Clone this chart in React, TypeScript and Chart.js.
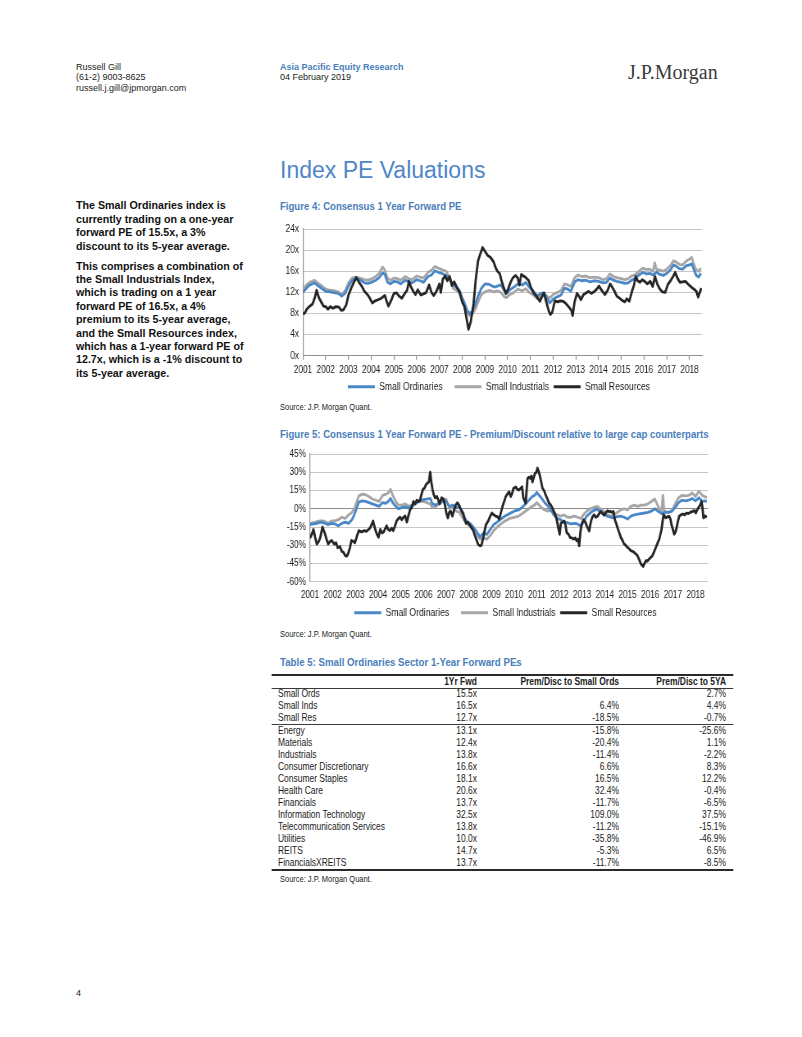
import React, { useEffect, useRef } from "react";
import { Chart, registerables } from "chart.js";

Chart.register(...registerables);

const FONT = '"Liberation Sans", Arial, Helvetica, sans-serif';
const SERIF = '"Liberation Serif", "Times New Roman", serif';

// ---------- shared axis values ----------
const YEAR_TICKS = [2001, 2002, 2003, 2004, 2005, 2006, 2007, 2008, 2009, 2010, 2011, 2012, 2013, 2014, 2015, 2016, 2017, 2018];
const X_MIN = 2001;
const X_MAX = 2018.55;
const PE_TICKS = [0, 4, 8, 12, 16, 20, 24];
const PREM_TICKS = [-60, -45, -30, -15, 0, 15, 30, 45];
const SERIES_NAMES = ["Small Ordinaries", "Small Industrials", "Small Resources"];

// ---------- Figure 4: Consensus 1 Year Forward PE (x) ----------
const peSmallOrds: [number, number][] = [
  [2001.0, 12.0], [2001.15, 12.8], [2001.3, 13.4], [2001.5, 13.8], [2001.65, 13.3], [2001.8, 12.8],
  [2002.0, 12.2], [2002.2, 12.1], [2002.4, 11.9], [2002.55, 11.8], [2002.7, 11.3], [2002.85, 11.8],
  [2003.0, 13.2], [2003.15, 14.2], [2003.3, 14.6], [2003.5, 14.4], [2003.7, 13.8], [2003.85, 13.7],
  [2004.0, 13.9], [2004.2, 14.3], [2004.35, 14.8], [2004.5, 15.7], [2004.6, 15.4], [2004.72, 13.9], [2004.85, 13.6],
  [2005.0, 14.1], [2005.15, 14.0], [2005.3, 13.6], [2005.5, 14.3], [2005.65, 14.0], [2005.8, 13.8],
  [2006.0, 14.4], [2006.15, 14.2], [2006.3, 13.9], [2006.5, 15.0], [2006.65, 15.3], [2006.8, 16.1], [2006.95, 15.8],
  [2007.1, 15.6], [2007.3, 15.2], [2007.45, 14.6], [2007.6, 13.4], [2007.75, 13.0], [2007.9, 12.2],
  [2008.0, 11.0], [2008.12, 9.8], [2008.22, 8.6], [2008.32, 8.0], [2008.45, 8.4], [2008.58, 9.8], [2008.72, 11.5], [2008.85, 12.8],
  [2009.0, 13.6], [2009.2, 13.5], [2009.4, 13.0], [2009.55, 13.2], [2009.7, 13.4], [2009.85, 12.4], [2009.95, 11.8],
  [2010.1, 12.5], [2010.25, 12.9], [2010.45, 13.6], [2010.65, 13.4], [2010.8, 13.9], [2010.95, 13.0],
  [2011.1, 12.4], [2011.3, 11.3], [2011.45, 11.8], [2011.6, 11.9], [2011.75, 10.8], [2011.85, 10.0],
  [2012.0, 10.7], [2012.2, 11.2], [2012.35, 11.5], [2012.5, 12.8], [2012.65, 12.6], [2012.78, 12.2], [2012.95, 14.0],
  [2013.1, 14.4], [2013.25, 14.2], [2013.45, 14.3], [2013.6, 14.0], [2013.8, 14.2],
  [2014.0, 14.1], [2014.2, 13.8], [2014.35, 13.9], [2014.5, 14.7], [2014.65, 14.3], [2014.8, 14.1],
  [2015.0, 13.9], [2015.15, 13.7], [2015.3, 13.8], [2015.45, 14.3], [2015.6, 14.6], [2015.75, 15.2], [2015.95, 15.8],
  [2016.1, 15.5], [2016.25, 15.6], [2016.4, 15.3], [2016.55, 15.8], [2016.7, 15.4], [2016.85, 15.2],
  [2017.0, 15.6], [2017.15, 16.2], [2017.3, 17.2], [2017.4, 17.0], [2017.55, 16.5], [2017.7, 16.4], [2017.85, 17.0],
  [2018.0, 17.2], [2018.1, 17.4], [2018.2, 16.2], [2018.3, 15.2], [2018.4, 14.9], [2018.5, 15.6],
];

const peSmallInds: [number, number][] = [
  [2001.0, 12.5], [2001.15, 13.4], [2001.3, 13.9], [2001.5, 14.3], [2001.65, 13.8], [2001.8, 13.3],
  [2002.0, 12.6], [2002.2, 12.4], [2002.4, 12.3], [2002.55, 12.1], [2002.7, 11.6], [2002.85, 12.3],
  [2003.0, 13.8], [2003.15, 14.7], [2003.3, 14.9], [2003.5, 14.7], [2003.7, 14.4], [2003.85, 14.3],
  [2004.0, 14.5], [2004.2, 15.0], [2004.35, 15.6], [2004.5, 16.8], [2004.6, 16.2], [2004.72, 14.7], [2004.85, 14.3],
  [2005.0, 14.7], [2005.15, 14.6], [2005.3, 14.3], [2005.5, 15.0], [2005.65, 14.6], [2005.8, 14.4],
  [2006.0, 15.1], [2006.15, 14.9], [2006.3, 14.7], [2006.5, 15.8], [2006.65, 16.2], [2006.8, 16.9], [2006.95, 16.6],
  [2007.1, 16.3], [2007.3, 16.0], [2007.45, 14.7], [2007.6, 12.8], [2007.75, 12.4], [2007.9, 11.8],
  [2008.0, 10.6], [2008.12, 9.4], [2008.22, 8.2], [2008.32, 7.6], [2008.45, 7.9], [2008.58, 8.8], [2008.72, 10.4], [2008.85, 11.6],
  [2009.0, 12.1], [2009.2, 12.4], [2009.4, 12.1], [2009.55, 12.3], [2009.7, 12.0], [2009.85, 11.2], [2009.95, 11.0],
  [2010.1, 11.6], [2010.25, 11.9], [2010.45, 12.6], [2010.65, 12.3], [2010.8, 12.7], [2010.95, 12.0],
  [2011.1, 11.6], [2011.3, 10.8], [2011.45, 11.3], [2011.6, 11.6], [2011.75, 11.2], [2011.85, 10.9],
  [2012.0, 11.6], [2012.2, 12.0], [2012.35, 12.4], [2012.5, 13.6], [2012.65, 13.4], [2012.78, 13.1], [2012.95, 14.8],
  [2013.1, 15.3], [2013.25, 15.0], [2013.45, 15.1], [2013.6, 14.8], [2013.8, 14.9],
  [2014.0, 14.8], [2014.2, 14.4], [2014.35, 14.6], [2014.5, 15.5], [2014.65, 15.0], [2014.8, 14.8],
  [2015.0, 14.6], [2015.15, 14.4], [2015.3, 14.6], [2015.45, 15.1], [2015.6, 15.3], [2015.75, 15.9], [2015.95, 16.6],
  [2016.1, 16.3], [2016.25, 16.4], [2016.4, 16.0], [2016.47, 17.6], [2016.55, 16.3], [2016.7, 16.2], [2016.85, 16.0],
  [2017.0, 16.4], [2017.15, 17.0], [2017.3, 18.0], [2017.4, 17.8], [2017.55, 17.3], [2017.7, 17.2], [2017.85, 17.9],
  [2018.0, 18.3], [2018.1, 18.6], [2018.2, 17.2], [2018.3, 16.2], [2018.4, 16.0], [2018.5, 16.6],
];

const peSmallRes: [number, number][] = [
  [2001.0, 7.9], [2001.08, 8.1], [2001.18, 8.9], [2001.3, 9.4], [2001.42, 9.8], [2001.52, 11.0], [2001.6, 12.4], [2001.7, 11.0], [2001.8, 10.2], [2001.9, 9.4],
  [2002.0, 9.3], [2002.1, 8.8], [2002.2, 9.3], [2002.32, 9.0], [2002.45, 9.3], [2002.58, 9.2], [2002.68, 8.6], [2002.78, 8.7], [2002.9, 9.6],
  [2003.0, 11.5], [2003.12, 12.8], [2003.25, 14.0], [2003.35, 14.8], [2003.45, 14.0], [2003.58, 13.2], [2003.7, 12.2], [2003.85, 11.5], [2003.95, 10.8],
  [2004.05, 10.0], [2004.18, 10.4], [2004.3, 10.6], [2004.45, 10.9], [2004.6, 11.4], [2004.68, 10.3], [2004.76, 9.4], [2004.88, 10.5],
  [2005.0, 11.8], [2005.12, 11.9], [2005.22, 11.3], [2005.35, 10.9], [2005.48, 11.8], [2005.58, 12.4], [2005.66, 14.1], [2005.75, 13.0], [2005.85, 12.2], [2005.95, 11.6],
  [2006.05, 12.5], [2006.18, 11.5], [2006.3, 11.7], [2006.42, 12.0], [2006.55, 13.4], [2006.65, 12.0], [2006.75, 11.4], [2006.88, 12.3],
  [2007.0, 13.6], [2007.06, 12.0], [2007.15, 14.5], [2007.25, 15.1], [2007.35, 14.2], [2007.45, 15.0], [2007.55, 13.3], [2007.65, 14.0], [2007.75, 13.1], [2007.88, 12.1],
  [2008.0, 10.2], [2008.1, 9.3], [2008.18, 7.4], [2008.28, 5.0], [2008.38, 6.5], [2008.5, 9.8], [2008.6, 14.5], [2008.7, 18.0], [2008.8, 19.3], [2008.9, 20.5],
  [2009.0, 19.8], [2009.12, 19.0], [2009.25, 18.6], [2009.38, 17.8], [2009.48, 16.6], [2009.55, 16.0], [2009.65, 15.6], [2009.72, 14.4], [2009.82, 13.0], [2009.92, 11.8],
  [2010.02, 12.6], [2010.12, 13.8], [2010.22, 14.7], [2010.34, 15.2], [2010.44, 14.8], [2010.52, 13.4], [2010.6, 15.4], [2010.7, 15.1], [2010.8, 14.8], [2010.92, 14.3],
  [2011.02, 13.0], [2011.14, 11.9], [2011.28, 11.2], [2011.42, 10.3], [2011.52, 11.3], [2011.6, 11.9], [2011.7, 10.2], [2011.8, 8.6], [2011.88, 7.8], [2011.96, 8.2],
  [2012.08, 10.4], [2012.2, 10.2], [2012.32, 10.4], [2012.45, 10.3], [2012.58, 9.8], [2012.7, 9.2], [2012.8, 8.6], [2012.86, 7.6], [2012.94, 10.1],
  [2013.05, 11.8], [2013.15, 11.2], [2013.22, 10.6], [2013.34, 11.6], [2013.45, 11.9], [2013.56, 12.2], [2013.68, 11.8], [2013.8, 12.1], [2013.92, 12.6],
  [2014.02, 13.2], [2014.15, 12.3], [2014.28, 11.6], [2014.4, 12.4], [2014.51, 13.6], [2014.6, 13.0], [2014.7, 12.2], [2014.8, 11.3], [2014.92, 10.9],
  [2015.03, 10.5], [2015.15, 10.2], [2015.25, 10.8], [2015.35, 10.3], [2015.47, 12.2], [2015.56, 13.4], [2015.63, 15.0], [2015.72, 14.2], [2015.82, 13.9], [2015.92, 14.4],
  [2016.05, 14.0], [2016.15, 13.6], [2016.27, 14.1], [2016.38, 13.1], [2016.48, 15.0], [2016.58, 13.6], [2016.7, 12.6], [2016.8, 12.1], [2016.93, 12.0],
  [2017.05, 13.5], [2017.18, 14.3], [2017.3, 15.2], [2017.37, 15.8], [2017.47, 14.7], [2017.58, 13.9], [2017.7, 14.0], [2017.82, 14.1], [2017.95, 13.5],
  [2018.08, 13.0], [2018.2, 12.6], [2018.3, 12.2], [2018.38, 11.1], [2018.45, 12.0], [2018.52, 12.8],
];

// ---------- Figure 5: Premium/Discount relative to large caps (%) ----------
const premSmallOrds: [number, number][] = [
  [2001.0, -13], [2001.15, -12.5], [2001.3, -12], [2001.45, -11], [2001.6, -11.5], [2001.8, -13], [2001.95, -12],
  [2002.1, -12.5], [2002.25, -14], [2002.4, -12], [2002.55, -11], [2002.7, -12], [2002.85, -9], [2002.95, -5],
  [2003.05, 0], [2003.15, 5.5], [2003.3, 6.5], [2003.45, 6], [2003.6, 5], [2003.75, 4], [2003.9, 3],
  [2004.05, 2], [2004.2, 5], [2004.35, 4.5], [2004.45, 6], [2004.55, 8.5], [2004.65, 5], [2004.78, 2], [2004.9, 0],
  [2005.05, 1], [2005.2, 1.5], [2005.35, 0.5], [2005.5, 2], [2005.65, 4], [2005.8, 6],
  [2006.0, 7.5], [2006.15, 8], [2006.3, 8.5], [2006.4, 4], [2006.55, 3], [2006.7, 5], [2006.85, 7],
  [2007.0, 6], [2007.15, 2], [2007.3, 3], [2007.45, 1], [2007.6, 2], [2007.75, -5], [2007.9, -10],
  [2008.05, -12], [2008.2, -15], [2008.35, -19], [2008.5, -23], [2008.65, -20], [2008.8, -21], [2008.95, -17],
  [2009.1, -13], [2009.25, -11], [2009.45, -8], [2009.6, -6], [2009.8, -4],
  [2010.0, -2], [2010.2, -1], [2010.35, 1], [2010.5, 4], [2010.65, 7], [2010.8, 10], [2010.9, 11],
  [2011.0, 13.5], [2011.1, 11], [2011.2, 9], [2011.35, 5], [2011.5, 2], [2011.62, -1], [2011.75, -5], [2011.9, -8],
  [2012.05, -9], [2012.2, -11], [2012.35, -11.5], [2012.5, -12.5], [2012.65, -12], [2012.8, -12.5], [2012.95, -14.5],
  [2013.05, -11], [2013.2, -6], [2013.35, -3.5], [2013.5, -1.5], [2013.65, -0.5], [2013.8, -2], [2013.95, -4],
  [2014.1, -6], [2014.25, -7], [2014.4, -7.5], [2014.55, -6.5], [2014.7, -6], [2014.85, -7],
  [2015.0, -8.5], [2015.15, -6], [2015.3, -5], [2015.45, -4.5], [2015.6, -4], [2015.75, -3.5], [2015.9, -3],
  [2016.05, -2], [2016.2, 0], [2016.35, -2], [2016.5, -4], [2016.65, -3], [2016.8, -3], [2016.95, -2],
  [2017.1, 1], [2017.25, 5], [2017.4, 7], [2017.55, 6.5], [2017.7, 7], [2017.85, 8.5],
  [2018.0, 6.5], [2018.15, 9], [2018.3, 6], [2018.4, 6.5], [2018.5, 6],
];

const premSmallInds: [number, number][] = [
  [2001.0, -12], [2001.15, -11.5], [2001.3, -10.5], [2001.45, -10], [2001.6, -10], [2001.8, -12], [2001.95, -10],
  [2002.1, -10], [2002.25, -9], [2002.4, -7], [2002.55, -8], [2002.7, -5], [2002.85, -3], [2002.95, 0],
  [2003.05, 5], [2003.15, 10.5], [2003.3, 12], [2003.45, 11.5], [2003.6, 10], [2003.75, 8], [2003.9, 7],
  [2004.05, 6], [2004.2, 11], [2004.35, 12], [2004.45, 13], [2004.55, 16], [2004.65, 11], [2004.78, 6], [2004.9, 3],
  [2005.05, 3], [2005.2, 4], [2005.35, 2], [2005.5, 3], [2005.65, 5], [2005.8, 6],
  [2006.0, 6], [2006.15, 5], [2006.3, 4], [2006.4, 1], [2006.55, 2], [2006.7, 4], [2006.85, 6],
  [2007.0, 8], [2007.15, 0], [2007.3, 2], [2007.45, -2], [2007.6, -3], [2007.75, -8], [2007.9, -12],
  [2008.05, -14], [2008.2, -18], [2008.35, -21], [2008.5, -25], [2008.65, -24], [2008.8, -25], [2008.95, -22],
  [2009.1, -18], [2009.25, -15], [2009.45, -12], [2009.6, -10], [2009.8, -8],
  [2010.0, -7], [2010.2, -6], [2010.35, -4], [2010.5, -2], [2010.65, 0], [2010.8, 2], [2010.9, 3],
  [2011.0, 5], [2011.1, 3], [2011.2, 1], [2011.35, -1], [2011.5, -2], [2011.62, -1], [2011.75, -3], [2011.9, -5],
  [2012.05, -6], [2012.2, -5], [2012.35, -7], [2012.5, -7], [2012.65, -6], [2012.8, -7], [2012.95, -8],
  [2013.05, -5], [2013.2, -2], [2013.35, 0], [2013.5, 1], [2013.65, 2], [2013.8, 0], [2013.95, -2],
  [2014.1, -5], [2014.25, -6], [2014.4, -5], [2014.55, -3], [2014.7, -1], [2014.85, 0],
  [2015.0, -1], [2015.15, 2], [2015.3, 3], [2015.45, 2], [2015.6, 3], [2015.75, 3], [2015.9, 4],
  [2016.05, 6], [2016.2, 8], [2016.35, 2], [2016.5, -3], [2016.56, 11], [2016.62, -2], [2016.8, -3], [2016.95, -2],
  [2017.1, 4], [2017.25, 9], [2017.4, 11], [2017.55, 10.5], [2017.7, 11], [2017.85, 13],
  [2018.0, 10], [2018.15, 14.5], [2018.3, 11], [2018.4, 10], [2018.5, 9],
];

const premSmallRes: [number, number][] = [
  [2001.0, -24], [2001.08, -21], [2001.15, -17], [2001.22, -23], [2001.3, -29], [2001.38, -27], [2001.45, -24], [2001.55, -15], [2001.65, -20], [2001.73, -25], [2001.8, -29], [2001.88, -27], [2001.95, -26],
  [2002.07, -29], [2002.15, -28], [2002.22, -32], [2002.32, -31], [2002.4, -35], [2002.48, -36], [2002.55, -38.5], [2002.62, -39], [2002.68, -37], [2002.76, -32], [2002.83, -26], [2002.92, -27], [2002.98, -28],
  [2003.08, -22], [2003.15, -18], [2003.27, -19], [2003.4, -18], [2003.5, -18.5], [2003.64, -16], [2003.72, -13], [2003.78, -10], [2003.86, -16], [2003.95, -21],
  [2004.02, -23.5], [2004.1, -17], [2004.18, -20], [2004.25, -19], [2004.38, -14], [2004.45, -17], [2004.52, -18], [2004.6, -16], [2004.67, -18], [2004.75, -14], [2004.82, -10], [2004.9, -8], [2004.97, -7],
  [2005.05, -9], [2005.12, -7], [2005.2, -6], [2005.27, -11], [2005.35, -5], [2005.41, -1], [2005.48, 1], [2005.56, 6], [2005.63, 4], [2005.71, 7], [2005.78, 6], [2005.85, 7], [2005.92, 12], [2005.98, 16],
  [2006.05, 17], [2006.12, 20], [2006.18, 21], [2006.24, 22], [2006.3, 30], [2006.35, 22], [2006.4, 16], [2006.45, 12], [2006.52, 9], [2006.6, 10], [2006.66, 7], [2006.72, 4], [2006.8, 9], [2006.88, 8], [2006.95, 3],
  [2007.02, -4], [2007.08, -7.5], [2007.14, -3], [2007.2, -2], [2007.28, -6], [2007.35, -1], [2007.42, 3], [2007.5, 5], [2007.57, 3], [2007.63, 0], [2007.7, -2], [2007.76, -4], [2007.82, -9], [2007.88, -12], [2007.95, -11],
  [2008.02, -13], [2008.1, -15], [2008.18, -17], [2008.27, -22], [2008.35, -26], [2008.42, -29.5], [2008.5, -30.5], [2008.56, -30], [2008.64, -24], [2008.7, -18], [2008.76, -13], [2008.86, -10], [2008.95, -6],
  [2009.02, -3.5], [2009.1, -5], [2009.18, -6], [2009.26, -6.5], [2009.34, -8.5], [2009.42, -3], [2009.49, 2], [2009.56, 6], [2009.63, 10], [2009.7, 12], [2009.78, 14], [2009.85, 10], [2009.92, 13], [2009.97, 16.7],
  [2010.07, 18], [2010.14, 16], [2010.2, 15.4], [2010.29, 16.7], [2010.35, 18], [2010.41, 8.6], [2010.51, 4.6], [2010.59, 24.8], [2010.65, 26], [2010.71, 25], [2010.76, 27], [2010.81, 22], [2010.87, 26], [2010.92, 29], [2010.98, 30],
  [2011.03, 33.5], [2011.08, 31], [2011.15, 26], [2011.25, 17], [2011.32, 15], [2011.4, 11], [2011.47, 8], [2011.54, 4.6], [2011.62, 3], [2011.69, 0.5], [2011.77, -3], [2011.84, -6], [2011.9, -11], [2011.96, -17],
  [2012.01, -21], [2012.06, -12], [2012.14, -11], [2012.21, -10], [2012.27, -14], [2012.32, -19.7], [2012.4, -21], [2012.47, -23.7], [2012.55, -24], [2012.62, -25], [2012.7, -24], [2012.76, -26.4], [2012.82, -25], [2012.87, -30.5], [2012.92, -20], [2012.97, -13],
  [2013.06, -9], [2013.14, -11], [2013.21, -14.3], [2013.31, -18.3], [2013.36, -13], [2013.41, -9], [2013.47, -6], [2013.53, -5], [2013.6, -7], [2013.68, -6.2], [2013.75, -4], [2013.82, -2.2], [2013.9, -4], [2013.97, -5.4],
  [2014.05, -3], [2014.12, -1.6], [2014.2, -2.5], [2014.26, -2.2], [2014.32, -3], [2014.38, -2.2], [2014.44, -8.9], [2014.5, -12], [2014.56, -15.6], [2014.64, -20], [2014.71, -23.7], [2014.78, -26], [2014.85, -29], [2014.92, -30],
  [2015.0, -31.8], [2015.08, -33], [2015.15, -34.5], [2015.22, -35], [2015.29, -35.8], [2015.36, -37], [2015.44, -38.5], [2015.52, -42], [2015.59, -45.3], [2015.65, -46.5], [2015.69, -47.4], [2015.75, -45], [2015.81, -42.6], [2015.88, -43], [2015.96, -41.2],
  [2016.03, -40], [2016.1, -38.5], [2016.18, -35], [2016.25, -31.8], [2016.33, -28], [2016.4, -25], [2016.45, -21], [2016.5, -17], [2016.55, -10], [2016.59, -4.9], [2016.64, -6], [2016.69, -7.5], [2016.77, -6.5], [2016.84, -6.2], [2016.9, -9], [2016.94, -12.9],
  [2017.0, -17], [2017.06, -21], [2017.12, -19], [2017.18, -14.3], [2017.24, -9], [2017.28, -6.2], [2017.36, -5], [2017.43, -4.3], [2017.52, -5], [2017.6, -3.5], [2017.68, -4], [2017.76, -3], [2017.87, -2.2], [2017.95, -1.5],
  [2018.01, -3.5], [2018.07, -1], [2018.12, 0.5], [2018.2, 3], [2018.26, 5.9], [2018.3, 2], [2018.35, -7.5], [2018.42, -6], [2018.5, -7],
];

// ---------- Table 5 ----------
const tableRows = ["Small Ords", "Small Inds", "Small Res", "Energy", "Materials", "Industrials", "Consumer Discretionary", "Consumer Staples", "Health Care", "Financials", "Information Technology", "Telecommunication Services", "Utilities", "REITS", "FinancialsXREITS"];
const tableFwdPE = ["15.5x", "16.5x", "12.7x", "13.1x", "12.4x", "13.8x", "16.6x", "18.1x", "20.6x", "13.7x", "32.5x", "13.8x", "10.0x", "14.7x", "13.7x"];
const tablePremSmallOrds = ["", "6.4%", "-18.5%", "-15.8%", "-20.4%", "-11.4%", "6.6%", "16.5%", "32.4%", "-11.7%", "109.0%", "-11.2%", "-35.8%", "-5.3%", "-11.7%"];
const tablePrem5YA = ["2.7%", "4.4%", "-0.7%", "-25.6%", "1.1%", "-2.2%", "8.3%", "12.2%", "-0.4%", "-6.5%", "37.5%", "-15.1%", "-46.9%", "6.5%", "-8.5%"];
const tableHeaders = ["1Yr Fwd", "Prem/Disc to Small Ords", "Prem/Disc to 5YA"];

// ---------- styles ----------
const COLORS = ["#4A87C6", "#A6A6A6", "#262626"];
const DRAW_ORDER = [1, 2, 0];
const GRID = "#C6C6C6";
const AXIS = "#909090";
const TEXT = "#1A1A1A";
const HEAD_BLUE = "#4A7EBB";
const NARROW = 0.82; // horizontal compression imitating a narrow face

type ChartProps = {
  left: number;
  top: number;
  displayWidth: number;
  height: number;
  yAxisWidth: number; // display px
  xAxisHeight: number;
  xTickPadding: number;
  xTickMarks: boolean;
  xBorder: boolean;
  yTicks: number[];
  ySuffix: string;
  zeroDark: boolean;
  series: [number, number][][];
};

function LineChart(p: ChartProps) {
  const ref = useRef<HTMLCanvasElement | null>(null);
  const internalWidth = Math.round(p.displayWidth / NARROW);
  useEffect(() => {
    const canvas = ref.current;
    if (!canvas) return;
    const tickFont = { family: FONT, size: 10 };
    const chart = new Chart(canvas, {
      type: "line",
      data: {
        datasets: p.series.map((pts, i) => ({
          label: SERIES_NAMES[i],
          data: pts.map(([x, y]) => ({ x, y })),
          borderColor: COLORS[i],
          backgroundColor: COLORS[i],
          borderWidth: 2.8,
          pointRadius: 0,
          pointHoverRadius: 0,
          tension: 0,
          borderJoinStyle: "round",
          fill: false,
          order: DRAW_ORDER[i],
        })),
      },
      options: {
        responsive: false,
        animation: false,
        events: [],
        devicePixelRatio: 1,
        layout: { padding: { top: 9, right: 8 / NARROW, left: 0, bottom: 0 } },
        plugins: {
          tooltip: { enabled: false },
          legend: {
            position: "bottom",
            fullSize: false,
            labels: {
              boxWidth: 27 / NARROW,
              boxHeight: 3,
              padding: 5.75,
              color: TEXT,
              font: { family: FONT, size: 10.5 },
              sort: (a: any, b: any) => a.datasetIndex - b.datasetIndex,
              generateLabels: (c: any) => {
                const items = (Chart.defaults.plugins.legend.labels.generateLabels as any)(c);
                return items.map((l: any, i: number) => ({
                  ...l,
                  lineWidth: 0,
                  text: i < items.length - 1 ? `${l.text}   ` : l.text,
                }));
              },
            },
          },
        },
        scales: {
          x: {
            type: "linear",
            min: X_MIN,
            max: X_MAX,
            afterBuildTicks: (s: any) => {
              s.ticks = YEAR_TICKS.map((v) => ({ value: v }));
            },
            afterFit: (s: any) => {
              s.height = p.xAxisHeight;
            },
            ticks: {
              autoSkip: false,
              maxRotation: 0,
              minRotation: 0,
              padding: p.xTickPadding,
              color: TEXT,
              font: tickFont,
              callback: (v: any) => String(v),
            },
            grid: { drawOnChartArea: false, drawTicks: p.xTickMarks, tickLength: 4, color: AXIS, lineWidth: 1.2 },
            border: { display: p.xBorder, color: AXIS, width: 1 },
          },
          y: {
            type: "linear",
            min: p.yTicks[0],
            max: p.yTicks[p.yTicks.length - 1],
            afterBuildTicks: (s: any) => {
              s.ticks = p.yTicks.map((v) => ({ value: v }));
            },
            afterFit: (s: any) => {
              s.width = p.yAxisWidth / NARROW;
            },
            ticks: {
              padding: 5,
              color: TEXT,
              font: tickFont,
              callback: (v: any) => `${v}${p.ySuffix}`,
            },
            grid: {
              drawTicks: false,
              lineWidth: 1,
              color: (ctx: any) => (p.zeroDark && ctx.tick && ctx.tick.value === 0 ? "#8A8A8A" : GRID),
            },
            border: { display: true, color: AXIS, width: 1.2 },
          },
        },
      } as any,
    });
    return () => chart.destroy();
  }, []);
  return (
    <canvas
      ref={ref}
      width={internalWidth}
      height={p.height}
      style={{
        position: "absolute",
        left: p.left,
        top: p.top,
        width: internalWidth * NARROW,
        height: p.height,
      }}
    />
  );
}

const abs = (left: number, top: number, extra: React.CSSProperties = {}): React.CSSProperties => ({
  position: "absolute",
  left,
  top,
  whiteSpace: "nowrap",
  ...extra,
});

function Narrow(props: { left: number; top: number; size: number; lh: number; bold?: boolean; color?: string; children: React.ReactNode }) {
  return (
    <div
      style={abs(props.left, props.top, {
        fontSize: props.size,
        lineHeight: `${props.lh}px`,
        fontWeight: props.bold ? 700 : 400,
        color: props.color || TEXT,
        transform: `scaleX(${NARROW})`,
        transformOrigin: "0 0",
      })}
    >
      {props.children}
    </div>
  );
}

const bodyP1 = ["The Small Ordinaries index is", "currently trading on a one-year", "forward PE of 15.5x, a 3%", "discount to its 5-year average."];
const bodyP2 = [
  "This comprises a combination of",
  "the Small Industrials Index,",
  "which is trading on a 1 year",
  "forward PE of 16.5x, a 4%",
  "premium to its 5-year average,",
  "and the Small Resources index,",
  "which has a 1-year forward PE of",
  "12.7x, which is a -1% discount to",
  "its 5-year average.",
];

function Table() {
  const ORIGIN = 270;
  const ix = (x: number) => (x - ORIGIN) / NARROW;
  const rowCenter = (i: number) => (i < 3 ? 693.5 + i * 12.15 : 731 + (i - 3) * 12);
  const colRight = [477, 619, 726];
  const cell = (center: number, bold: boolean): React.CSSProperties => ({
    position: "absolute",
    top: center - 6,
    height: 12,
    lineHeight: "12px",
    fontSize: 10.3,
    fontWeight: bold ? 700 : 400,
    color: TEXT,
    whiteSpace: "nowrap",
  });
  const rightCell = (center: number, bold: boolean, j: number): React.CSSProperties => ({
    ...cell(center, bold),
    left: ix(colRight[j]) - 200,
    width: 200,
    textAlign: "right",
  });
  const rule = (y: number, h: number, color: string): React.CSSProperties => ({
    position: "absolute",
    left: ix(272),
    top: y,
    width: 461 / NARROW,
    height: h,
    background: color,
  });
  return (
    <div style={{ position: "absolute", left: ORIGIN, top: 0, width: 600, height: 0, transform: `scaleX(${NARROW})`, transformOrigin: "0 0" }}>
      <div style={rule(674, 2, "#2A2A2A")} />
      {tableHeaders.map((h, j) => (
        <div key={h} style={rightCell(682, true, j)}>
          {h}
        </div>
      ))}
      <div style={rule(687.5, 1, "#3A3A3A")} />
      {tableRows.map((r, i) => {
        const c = rowCenter(i);
        const vals = [tableFwdPE[i], tablePremSmallOrds[i], tablePrem5YA[i]];
        return (
          <React.Fragment key={r}>
            <div style={{ ...cell(c, false), left: ix(278) }}>{r}</div>
            {vals.map((v, j) => (
              <div key={j} style={rightCell(c, false, j)}>
                {v}
              </div>
            ))}
          </React.Fragment>
        );
      })}
      <div style={rule(724, 1, "#3A3A3A")} />
      <div style={rule(868.5, 2, "#2A2A2A")} />
    </div>
  );
}

export default function App() {
  return (
    <div
      style={{
        position: "absolute",
        left: 0,
        top: 0,
        width: 802,
        height: 1037,
        overflow: "hidden",
        background: "#FFFFFF",
        fontFamily: FONT,
        color: TEXT,
      }}
    >
      {/* header */}
      <div style={abs(76, 61.5, { fontSize: 9, lineHeight: "10.5px" })}>
        <div>Russell Gill</div>
        <div>(61-2) 9003-8625</div>
        <div>russell.j.gill@jpmorgan.com</div>
      </div>
      <div style={abs(280, 61.5, { fontSize: 9, lineHeight: "10.5px" })}>
        <div style={{ color: HEAD_BLUE, fontWeight: 700 }}>Asia Pacific Equity Research</div>
        <div>04 February 2019</div>
      </div>
      <div style={abs(628, 60, { fontFamily: SERIF, fontSize: 20, lineHeight: "24px", color: "#3A3A3A" })}>J.P.Morgan</div>

      {/* section title */}
      <div style={abs(280, 156, { fontSize: 23, lineHeight: "28px", color: "#4F86C6" })}>Index PE Valuations</div>

      {/* left commentary */}
      <div style={abs(76, 199.3, { fontSize: 10.7, lineHeight: "13.4px", fontWeight: 700, color: "#111" })}>
        {bodyP1.map((l) => (
          <div key={l}>{l}</div>
        ))}
        <div style={{ height: 6.6 }} />
        {bodyP2.map((l) => (
          <div key={l}>{l}</div>
        ))}
      </div>

      {/* Figure 4 */}
      <Narrow left={280} top={199} size={11.7} lh={14} bold color={HEAD_BLUE}>
        Figure 4: Consensus 1 Year Forward PE
      </Narrow>
      <LineChart
        left={270}
        top={218}
        displayWidth={440}
        height={184}
        yAxisWidth={33}
        xAxisHeight={20}
        xTickPadding={4}
        xTickMarks={true}
        xBorder={true}
        yTicks={PE_TICKS}
        ySuffix="x"
        zeroDark={false}
        series={[peSmallOrds, peSmallInds, peSmallRes]}
      />
      <Narrow left={280} top={401.5} size={9.15} lh={11}>
        Source: J.P. Morgan Quant.
      </Narrow>

      {/* Figure 5 */}
      <Narrow left={280} top={427.3} size={11.7} lh={14} bold color={HEAD_BLUE}>
        Figure 5: Consensus 1 Year Forward PE - Premium/Discount relative to large cap counterparts
      </Narrow>
      <LineChart
        left={270}
        top={443}
        displayWidth={446}
        height={185}
        yAxisWidth={40}
        xAxisHeight={20}
        xTickPadding={7}
        xTickMarks={false}
        xBorder={false}
        yTicks={PREM_TICKS}
        ySuffix="%"
        zeroDark={true}
        series={[premSmallOrds, premSmallInds, premSmallRes]}
      />
      <Narrow left={280} top={628.8} size={9.15} lh={11}>
        Source: J.P. Morgan Quant.
      </Narrow>

      {/* Table 5 */}
      <Narrow left={280} top={654.7} size={11.8} lh={14} bold color={HEAD_BLUE}>
        Table 5: Small Ordinaries Sector 1-Year Forward PEs
      </Narrow>
      <Table />
      <Narrow left={280} top={873.8} size={9.15} lh={11}>
        Source: J.P. Morgan Quant.
      </Narrow>

      {/* page number */}
      <div style={abs(76, 987.5, { fontSize: 9, lineHeight: "11px" })}>4</div>
    </div>
  );
}
